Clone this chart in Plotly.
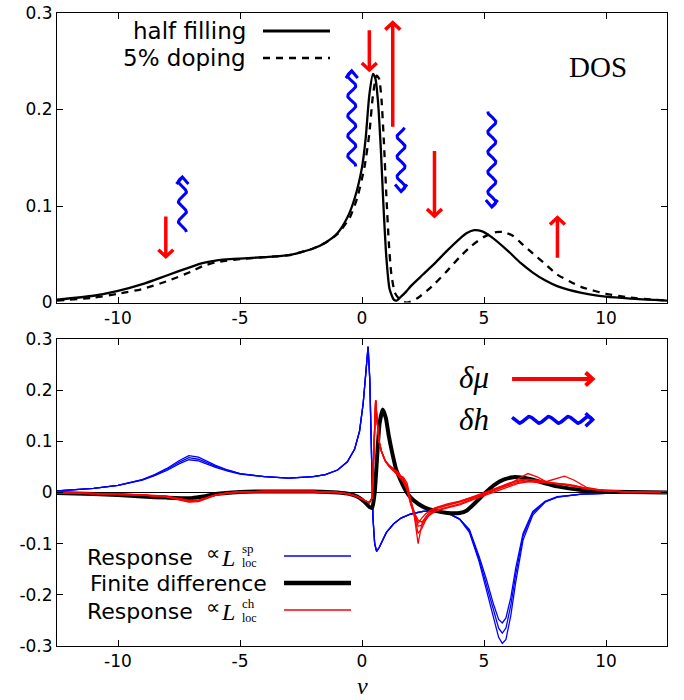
import math
import plotly.graph_objects as go

# ---------------- DATA ----------------
# Top panel: density of states
nu_half = [-12.5, -11, -10, -9, -8, -7, -6.5, -6, -5, -4, -3, -2, -1.5, -1, -0.6, -0.3, 0, 0.15,
           0.3, 0.45, 0.55, 0.65, 0.77, 0.87, 1.0, 1.13, 1.3, 1.42, 1.6, 1.8, 2, 2.5, 3, 3.5, 4,
           4.3, 4.6, 4.9, 5.3, 6, 6.5, 7, 7.5, 8, 9, 10, 11, 12.5]
dos_half = [0.003, 0.007, 0.012, 0.019, 0.028, 0.037, 0.041, 0.0435, 0.0455, 0.047, 0.049, 0.056,
            0.062, 0.072, 0.088, 0.108, 0.14, 0.17, 0.215, 0.237, 0.232, 0.21, 0.16, 0.105, 0.046,
            0.014, 0.003, 0.002, 0.006, 0.011, 0.017, 0.029, 0.041, 0.054, 0.066, 0.072, 0.075,
            0.074, 0.068, 0.053, 0.041, 0.031, 0.023, 0.017, 0.010, 0.006, 0.004, 0.002]

nu_dop = [-12.5, -11, -10, -9, -8, -7, -6.5, -6, -5, -4, -3, -2, -1.5, -1, -0.5, -0.2, 0.1, 0.3,
          0.45, 0.6, 0.7, 0.8, 0.9, 1.0, 1.1, 1.2, 1.35, 1.55, 1.8, 2.0, 2.3, 2.7, 3, 3.5, 4, 4.5,
          5, 5.5, 5.8, 6.2, 6.5, 7, 7.5, 8, 8.5, 9, 10, 11, 12.5]
dos_dop = [0.002, 0.005, 0.009, 0.014, 0.022, 0.032, 0.038, 0.0415, 0.045, 0.047, 0.049, 0.056,
           0.062, 0.071, 0.088, 0.108, 0.14, 0.175, 0.215, 0.235, 0.232, 0.21, 0.165, 0.11, 0.062,
           0.03, 0.01, 0.003, 0.0, 0.001, 0.005, 0.013, 0.02, 0.033, 0.047, 0.059, 0.068, 0.073,
           0.073, 0.069, 0.062, 0.051, 0.04, 0.029, 0.022, 0.016, 0.009, 0.005, 0.002]

# Bottom panel: response proportional to L_loc^sp (three curves)
nu_sp = [-12.5, -11, -10, -9, -8.5, -8, -7.5, -7.1, -6.7, -6.3, -6, -5.5, -5, -4, -3, -2, -1.5, -1,
         -0.6, -0.3, -0.1, 0.05, 0.15, 0.25, 0.32, 0.38, 0.45, 0.52, 0.6, 0.7, 0.85, 1.0, 1.3, 1.6,
         2.0, 2.5, 3.0, 3.5, 4.0, 4.4, 4.8, 5.1, 5.4, 5.6, 5.75, 5.9, 6.1, 6.3, 6.6, 7.0, 7.5, 8.0,
         9.0, 10.0, 11.0, 12.5]
sp_a = [0.003, 0.008, 0.014, 0.025, 0.035, 0.047, 0.062, 0.072, 0.069, 0.060, 0.053, 0.044, 0.037,
        0.031, 0.028, 0.031, 0.035, 0.044, 0.06, 0.085, 0.12, 0.175, 0.24, 0.285, 0.22, 0.06, -0.05,
        -0.1, -0.115, -0.108, -0.092, -0.078, -0.061, -0.05, -0.042, -0.037, -0.036, -0.04, -0.052,
        -0.078, -0.135, -0.19, -0.25, -0.283, -0.295, -0.287, -0.24, -0.175, -0.093, -0.044,
        -0.019, -0.009, -0.003, -0.001, 0.0, 0.0]
sp_b = [0.003, 0.008, 0.014, 0.025, 0.034, 0.045, 0.059, 0.068, 0.065, 0.057, 0.051, 0.043, 0.037,
        0.031, 0.028, 0.031, 0.035, 0.044, 0.06, 0.085, 0.12, 0.175, 0.24, 0.285, 0.22, 0.06, -0.05,
        -0.1, -0.115, -0.108, -0.092, -0.078, -0.061, -0.05, -0.042, -0.037, -0.036, -0.04, -0.052,
        -0.075, -0.13, -0.18, -0.235, -0.265, -0.275, -0.265, -0.22, -0.16, -0.085, -0.04,
        -0.018, -0.009, -0.003, -0.001, 0.0, 0.0]
sp_c = [0.003, 0.008, 0.014, 0.024, 0.033, 0.043, 0.056, 0.064, 0.062, 0.054, 0.049, 0.042, 0.036,
        0.031, 0.028, 0.031, 0.035, 0.044, 0.06, 0.085, 0.12, 0.175, 0.24, 0.285, 0.22, 0.06, -0.05,
        -0.1, -0.115, -0.108, -0.092, -0.078, -0.061, -0.05, -0.042, -0.037, -0.036, -0.04, -0.052,
        -0.072, -0.125, -0.17, -0.22, -0.248, -0.255, -0.245, -0.205, -0.148, -0.08, -0.037,
        -0.017, -0.008, -0.003, -0.001, 0.0, 0.0]

# Finite difference
nu_fd = [-12.5, -11, -10, -9, -8, -7, -6.5, -6, -5, -4, -3, -2, -1, -0.5, -0.2, 0.1, 0.3, 0.42,
         0.52, 0.62, 0.72, 0.85, 0.98, 1.1, 1.25, 1.4, 1.6, 1.8, 2.0, 2.3, 2.6, 3.0, 3.5, 4.0, 4.3,
         4.6, 5.0, 5.4, 5.8, 6.2, 6.6, 7.0, 7.5, 8.0, 9.0, 10.0, 11, 12.5]
fd = [-0.001, -0.003, -0.005, -0.008, -0.01, -0.011, -0.008, -0.003, 0.001, 0.002, 0.002, 0.002,
      0.0, -0.003, -0.008, -0.018, -0.028, -0.03, 0.0, 0.07, 0.135, 0.162, 0.145, 0.11, 0.075,
      0.045, 0.022, 0.003, -0.01, -0.022, -0.03, -0.036, -0.04, -0.04, -0.035, -0.022, -0.003,
      0.014, 0.025, 0.03, 0.029, 0.025, 0.018, 0.012, 0.005, 0.002, 0.001, 0.0]

# Response proportional to L_loc^ch (five curves)
nu_ch = [-12.5, -11, -10, -9, -8, -7.5, -7.1, -6.7, -6.3, -6, -5.5, -5, -4, -3, -2, -1, -0.5, -0.2,
         0.1, 0.3, 0.42, 0.5, 0.56, 0.62, 0.7, 0.8, 0.95, 1.1, 1.3, 1.5, 1.7, 1.85, 2.0, 2.15, 2.3,
         2.45, 2.6, 2.8, 3.0, 3.5, 4.0, 4.5, 5.0, 5.5, 6.0, 6.4, 6.8, 7.2, 7.6, 8.0, 8.3, 8.7, 9.2,
         10, 11, 12.5]
ch_1 = [0.0, -0.002, -0.003, -0.005, -0.008, -0.013, -0.017, -0.016, -0.01, -0.005, -0.001, 0.001,
        0.002, 0.002, 0.002, 0.0, -0.003, -0.008, -0.015, -0.02, -0.01, 0.1, 0.18, 0.14, 0.1, 0.08,
        0.062, 0.052, 0.043, 0.033, 0.028, 0.012, -0.02, -0.048, -0.1, -0.062, -0.048, -0.036,
        -0.03, -0.022, -0.017, -0.01, -0.002, 0.006, 0.014, 0.02, 0.022, 0.02, 0.022, 0.028, 0.032,
        0.024, 0.01, 0.003, 0.001, 0.0]
ch_2 = [0.0, -0.002, -0.003, -0.005, -0.009, -0.014, -0.019, -0.018, -0.011, -0.005, -0.001, 0.001,
        0.002, 0.002, 0.002, 0.0, -0.003, -0.008, -0.015, -0.02, -0.01, 0.1, 0.18, 0.14, 0.1, 0.08,
        0.062, 0.052, 0.044, 0.036, 0.022, 0.005, -0.022, -0.045, -0.08, -0.07, -0.055, -0.042,
        -0.035, -0.028, -0.022, -0.013, -0.004, 0.005, 0.015, 0.027, 0.037, 0.03, 0.02, 0.017,
        0.015, 0.012, 0.007, 0.003, 0.001, 0.0]
ch_3 = [0.0, -0.002, -0.003, -0.004, -0.007, -0.012, -0.015, -0.015, -0.009, -0.004, -0.001, 0.001,
        0.002, 0.002, 0.002, 0.0, -0.003, -0.008, -0.015, -0.02, -0.01, 0.1, 0.18, 0.14, 0.1, 0.08,
        0.062, 0.053, 0.044, 0.034, 0.03, 0.018, -0.015, -0.042, -0.066, -0.064, -0.052, -0.04,
        -0.032, -0.025, -0.019, -0.011, -0.001, 0.008, 0.018, 0.024, 0.026, 0.022, 0.019, 0.018,
        0.017, 0.014, 0.008, 0.003, 0.001, 0.0]
ch_4 = [0.0, -0.002, -0.003, -0.005, -0.008, -0.013, -0.018, -0.017, -0.01, -0.005, -0.001, 0.001,
        0.002, 0.002, 0.002, 0.0, -0.003, -0.008, -0.015, -0.02, -0.01, 0.1, 0.18, 0.14, 0.1, 0.08,
        0.063, 0.054, 0.046, 0.038, 0.025, 0.008, -0.018, -0.04, -0.054, -0.058, -0.05, -0.043,
        -0.037, -0.03, -0.024, -0.015, -0.006, 0.003, 0.012, 0.018, 0.021, 0.021, 0.019, 0.017,
        0.016, 0.013, 0.007, 0.003, 0.001, 0.0]
ch_5 = [0.0, -0.002, -0.003, -0.005, -0.008, -0.012, -0.016, -0.016, -0.01, -0.005, -0.001, 0.001,
        0.002, 0.002, 0.002, 0.0, -0.003, -0.008, -0.015, -0.02, -0.01, 0.1, 0.18, 0.14, 0.1, 0.08,
        0.061, 0.051, 0.042, 0.032, 0.02, 0.004, -0.024, -0.044, -0.06, -0.05, -0.042, -0.035,
        -0.03, -0.024, -0.018, -0.009, 0.0, 0.009, 0.017, 0.022, 0.025, 0.024, 0.02, 0.018, 0.016,
        0.013, 0.008, 0.003, 0.001, 0.0]

x_ticks = [-10, -5, 0, 5, 10]
x_ticktext = ["-10", "-5", "0", "5", "10"]
y1_ticks = [0, 0.1, 0.2, 0.3]
y1_ticktext = ["0", "0.1", "0.2", "0.3"]
y2_ticks = [-0.3, -0.2, -0.1, 0, 0.1, 0.2, 0.3]
y2_ticktext = ["-0.3", "-0.2", "-0.1", "0", "0.1", "0.2", "0.3"]

# Arrow annotations (data coordinates: nu, start value, tip value)
red_arrows_top = [(-8.04, 0.089, 0.0475), (0.3, 0.282, 0.241), (1.26, 0.182, 0.29),
                  (2.97, 0.157, 0.0896), (8.01, 0.0464, 0.088)]
blue_waves_top = [(-7.36, 0.073, 0.130), (-0.42, 0.141, 0.24), (1.6, 0.181, 0.115),
                  (5.32, 0.198, 0.099)]

# ---------------- GEOMETRY ----------------
W, H = 684, 700
ML, MR, MT, MB = 57, 17, 13, 54
PW, PH = W - ML - MR, H - MT - MB
X_RANGE = [-12.5, 12.5]
Y1_RANGE = [0, 0.3]
Y2_RANGE = [-0.3, 0.3]
TOP_DOM = [(H - MB - 302.5) / PH, 1.0]
BOT_DOM = [0.0, (H - MB - 339) / PH]


def pxx(px):
    return (px - ML) / PW


def pxy(py):
    return (H - MB - py) / PH


SX = PW / (X_RANGE[1] - X_RANGE[0])
SY1 = PH * (TOP_DOM[1] - TOP_DOM[0]) / (Y1_RANGE[1] - Y1_RANGE[0])
SY2 = PH * (BOT_DOM[1] - BOT_DOM[0]) / (Y2_RANGE[1] - Y2_RANGE[0])


def arrow_xy(x0, y0, x1, y1, sy, wavy, amp=4.0, period=19.0, hl=7.0, hw=7.0):
    dx = (x1 - x0) * SX
    dy = (y1 - y0) * sy
    L = math.hypot(dx, dy)
    ux, uy = dx / L, dy / L
    nx, ny = -uy, ux
    xs, ys = [], []
    if wavy:
        n = max(int(L * 2), 40)
        for i in range(n + 1):
            s = L * i / n
            off = amp * math.sin(2 * math.pi * (L - s) / period)
            xs.append(x0 + (ux * s + nx * off) / SX)
            ys.append(y0 + (uy * s + ny * off) / sy)
    else:
        xs += [x0, x1]
        ys += [y0, y1]
    xs.append(None)
    ys.append(None)
    for px, py in [(-hl * ux + hw * nx, -hl * uy + hw * ny), (0, 0),
                   (-hl * ux - hw * nx, -hl * uy - hw * ny)]:
        xs.append(x1 + px / SX)
        ys.append(y1 + py / sy)
    xs.append(None)
    ys.append(None)
    return xs, ys


fig = go.Figure()

# ---- top panel ----
fig.add_trace(go.Scatter(x=nu_half, y=dos_half, mode="lines",
                         line=dict(color="black", width=2.3, shape="spline", smoothing=0.6),
                         xaxis="x", yaxis="y"))
fig.add_trace(go.Scatter(x=nu_dop, y=dos_dop, mode="lines",
                         line=dict(color="black", width=2.3, dash="7px,6px", shape="spline", smoothing=0.6),
                         xaxis="x", yaxis="y"))

rx, ry = [], []
for x, a, b in red_arrows_top:
    xs, ys = arrow_xy(x, a, x, b, SY1, False, hl=7, hw=7.5)
    rx += xs
    ry += ys
fig.add_trace(go.Scatter(x=rx, y=ry, mode="lines", line=dict(color="#ff0000", width=3.5),
                         xaxis="x", yaxis="y"))
bx, by = [], []
for x, a, b in blue_waves_top:
    xs, ys = arrow_xy(x, a, x, b, SY1, True, amp=4.0, period=20.0, hl=7, hw=6)
    bx += xs
    by += ys
fig.add_trace(go.Scatter(x=bx, y=by, mode="lines", line=dict(color="#0000ff", width=3),
                         xaxis="x", yaxis="y"))

# ---- bottom panel ----
for ys_ in (sp_a, sp_b, sp_c):
    fig.add_trace(go.Scatter(x=nu_sp, y=ys_, mode="lines", line=dict(color="#0000ff", width=1.3),
                             xaxis="x2", yaxis="y2"))
fig.add_trace(go.Scatter(x=nu_fd, y=fd, mode="lines",
                         line=dict(color="black", width=4, shape="spline", smoothing=0.5),
                         xaxis="x2", yaxis="y2"))
for ys_ in (ch_1, ch_2, ch_3, ch_4, ch_5):
    fig.add_trace(go.Scatter(x=nu_ch, y=ys_, mode="lines", line=dict(color="#ff0000", width=1.3),
                             xaxis="x2", yaxis="y2"))

# delta mu / delta h key arrows
xs, ys = arrow_xy(6.15, 0.222, 9.45, 0.222, SY2, False, hl=7, hw=6.5)
fig.add_trace(go.Scatter(x=xs, y=ys, mode="lines", line=dict(color="#ff0000", width=4),
                         xaxis="x2", yaxis="y2"))
xs, ys = arrow_xy(6.15, 0.142, 9.45, 0.142, SY2, True, amp=3.3, period=19.5, hl=7, hw=6.5)
fig.add_trace(go.Scatter(x=xs, y=ys, mode="lines", line=dict(color="#0000ff", width=3.5),
                         xaxis="x2", yaxis="y2"))

axis_common = dict(showline=True, linecolor="black", linewidth=1, mirror="ticks", ticks="inside",
                   ticklen=6, tickwidth=1, tickcolor="black", showgrid=False, zeroline=False,
                   automargin=False,
                   tickfont=dict(family="DejaVu Sans", size=17, color="black"))

shapes = [
    dict(type="line", xref="x2", yref="y2", x0=X_RANGE[0], x1=X_RANGE[1], y0=0, y1=0,
         line=dict(color="black", width=1), layer="below"),
    # top key lines
    dict(type="line", xref="paper", yref="paper", x0=pxx(263), x1=pxx(330), y0=pxy(31), y1=pxy(31),
         line=dict(color="black", width=3)),
    dict(type="line", xref="paper", yref="paper", x0=pxx(263), x1=pxx(330), y0=pxy(58), y1=pxy(58),
         line=dict(color="black", width=2.5, dash="7px,6px")),
    # bottom key lines
    dict(type="line", xref="paper", yref="paper", x0=pxx(284), x1=pxx(351), y0=pxy(556), y1=pxy(556),
         line=dict(color="#0000ff", width=1.5)),
    dict(type="line", xref="paper", yref="paper", x0=pxx(284), x1=pxx(351), y0=pxy(583), y1=pxy(583),
         line=dict(color="black", width=4.5)),
    dict(type="line", xref="paper", yref="paper", x0=pxx(284), x1=pxx(351), y0=pxy(610), y1=pxy(610),
         line=dict(color="#ff0000", width=1.5)),
]

SANS = "DejaVu Sans"
SERIF = "Liberation Serif"


def ann(text, px, py, size, family=SANS, xanchor="center", yanchor="middle"):
    return dict(text=text, x=pxx(px), y=pxy(py), xref="paper", yref="paper", showarrow=False,
                xanchor=xanchor, yanchor=yanchor, borderpad=0,
                font=dict(family=family, size=size, color="black"))


annotations = [
    ann("half filling", 247, 31, 23, xanchor="right"),
    ann("5% doping", 247, 58, 23, xanchor="right"),
    ann("DOS", 598, 67, 29, family=SERIF),
    ann("<i>δμ</i>", 474, 378, 31, family=SERIF),
    ann("<i>δh</i>", 474, 419, 31, family=SERIF),
    ann("<i>ν</i>", 362, 700, 24, family=SERIF, yanchor="bottom"),
    ann("Finite difference", 268, 583, 22, xanchor="right"),
]
for row_y, sup, sup_dy, sub_dy in ((556, "sp", -7.5, 7), (610, "ch", -6.5, 8)):
    annotations += [
        ann("Response", 194, row_y + 1, 22, xanchor="right"),
        ann("∝", 213, row_y - 3, 20, family=SERIF),
        ann("<i>L</i>", 228, row_y + 2, 24, family=SERIF),
        ann(sup, 241, row_y + sup_dy, 13, family=SERIF, xanchor="left"),
        ann("loc", 241, row_y + sub_dy, 12, family=SERIF, xanchor="left"),
    ]

fig.update_layout(
    width=W, height=H, margin=dict(l=ML, r=MR, t=MT, b=MB, pad=0),
    paper_bgcolor="white", plot_bgcolor="white", showlegend=False,
    xaxis=dict(domain=[0, 1], anchor="y", range=X_RANGE, tickvals=x_ticks, ticktext=x_ticktext,
               **axis_common),
    yaxis=dict(domain=TOP_DOM, anchor="x", range=Y1_RANGE, tickvals=y1_ticks,
               ticktext=y1_ticktext, **axis_common),
    xaxis2=dict(domain=[0, 1], anchor="y2", range=X_RANGE, tickvals=x_ticks, ticktext=x_ticktext,
                **axis_common),
    yaxis2=dict(domain=BOT_DOM, anchor="x2", range=Y2_RANGE, tickvals=y2_ticks,
                ticktext=y2_ticktext, **axis_common),
    shapes=shapes,
    annotations=annotations,
)

fig.write_html("out.html")
